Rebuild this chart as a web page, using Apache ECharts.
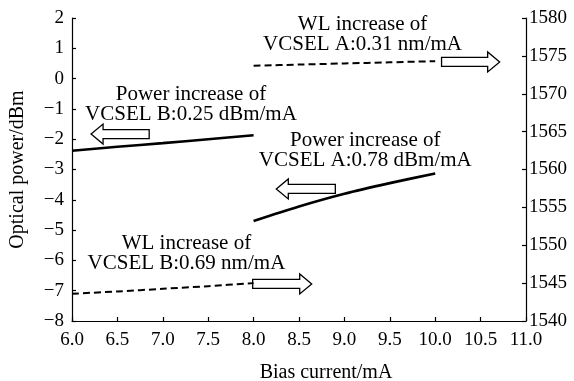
<!DOCTYPE html>
<html>
<head>
<meta charset="utf-8">
<script src="https://cdn.jsdelivr.net/npm/echarts@6/dist/echarts.min.js"></script>
<style>
  html, body { margin: 0; padding: 0; background: #fff; }
  #chart { width: 574px; height: 381px; }
</style>
</head>
<body>
<div id="chart"></div>
<script>
const FONT = "'Liberation Serif', 'Times New Roman', serif"

// bias current (mA)
const biasB = [6.0, 6.5, 7.0, 7.5, 8.0]
const biasA = [8.0, 8.5, 9.0, 9.5, 10.0]

// optical power (dBm), left axis
const powerB = [-2.38, -2.25, -2.13, -2.0, -1.87]
const powerA = [-4.70, -4.22, -3.80, -3.45, -3.13]

// wavelength (nm), right axis
const wlB = [1543.6, 1543.9, 1544.25, 1544.6, 1545.0]
const wlA = [1573.7, 1573.85, 1574.0, 1574.15, 1574.3]

// annotation texts and block arrows (data coords: x, y, axis index)
const notes = [
  { text: 'WL increase of\nVCSEL A:0.31 nm/mA', x: 9.2, y: 1.47, axis: 0 },
  { text: 'Power increase of\nVCSEL B:0.25 dBm/mA', x: 7.31, y: -0.86, axis: 0 },
  { text: 'Power increase of\nVCSEL A:0.78 dBm/mA', x: 9.23, y: -2.36, axis: 0 },
  { text: 'WL increase of\nVCSEL B:0.69 nm/mA', x: 7.26, y: 1548.9, axis: 1 }
]
const arrows = [
  { tail: 6.85, tip: 6.21, y: -1.83, axis: 0 },
  { tail: 10.07, tip: 10.71, y: 1574.2, axis: 1 },
  { tail: 8.9, tip: 8.25, y: -3.64, axis: 0 },
  { tail: 7.99, tip: 8.64, y: 1544.9, axis: 1 }
]

const chart = echarts.init(document.getElementById('chart'))

const axisText = { fontFamily: FONT, fontSize: 19, color: '#000' }
const axisLine = { show: true, onZero: false, lineStyle: { color: '#000', width: 1.2 } }
const axisTick = { show: true, inside: true, length: 4, lineStyle: { color: '#000', width: 1.2 } }

const option = {
  animation: false,
  backgroundColor: '#fff',
  grid: { left: 72, right: 48, top: 18, bottom: 60, containLabel: false, outerBoundsMode: 'none' },
  xAxis: {
    type: 'value',
    min: 6, max: 11, interval: 0.5,
    name: 'Bias current/mA',
    nameLocation: 'middle',
    nameGap: 42,
    nameTextStyle: { ...axisText, fontSize: 20, padding: [0, 0, 0, 54] },
    axisLine, axisTick,
    axisLabel: { ...axisText, margin: 10, formatter: v => v.toFixed(1) },
    splitLine: { show: false }
  },
  yAxis: [
    {
      type: 'value',
      min: -8, max: 2, interval: 1,
      name: 'Optical power/dBm',
      nameLocation: 'middle',
      nameGap: 44,
      nameTextStyle: { ...axisText, fontSize: 20 },
      axisLine, axisTick,
      axisLabel: { ...axisText, margin: 8, formatter: v => String(v).replace('-', '\u2212') },
      splitLine: { show: false }
    },
    {
      type: 'value',
      min: 1540, max: 1580, interval: 5,
      position: 'right',
      axisLine, axisTick,
      axisLabel: { ...axisText, margin: 3, formatter: v => String(v) },
      splitLine: { show: false }
    }
  ],
  series: [
    {
      type: 'line', yAxisIndex: 0, smooth: 0.3, showSymbol: false,
      lineStyle: { color: '#000', width: 2.6 },
      data: biasB.map((x, i) => [x, powerB[i]])
    },
    {
      type: 'line', yAxisIndex: 0, smooth: 0.3, showSymbol: false,
      lineStyle: { color: '#000', width: 2.6 },
      data: biasA.map((x, i) => [x, powerA[i]])
    },
    {
      type: 'line', yAxisIndex: 1, smooth: 0.3, showSymbol: false,
      lineStyle: { color: '#000', width: 2, type: [7, 4] },
      data: biasB.map((x, i) => [x, wlB[i]])
    },
    {
      type: 'line', yAxisIndex: 1, smooth: 0.3, showSymbol: false,
      lineStyle: { color: '#000', width: 2, type: [7, 4] },
      data: biasA.map((x, i) => [x, wlA[i]])
    }
  ]
}

chart.setOption(option)

// place annotations through the chart's own scales
const toPx = (x, y, axis) => chart.convertToPixel({ xAxisIndex: 0, yAxisIndex: axis }, [x, y])

const graphics = []
notes.forEach(n => {
  const p = toPx(n.x, n.y, n.axis)
  graphics.push({
    type: 'text', x: p[0], y: p[1],
    style: {
      text: n.text, fontFamily: FONT, fontSize: 21, lineHeight: 20,
      fill: '#000', align: 'center', verticalAlign: 'middle'
    }
  })
})
arrows.forEach(a => {
  const t = toPx(a.tail, a.y, a.axis)
  const h = toPx(a.tip, a.y, a.axis)
  const y = t[1]
  const dir = Math.sign(h[0] - t[0])
  const hs = 4.5, hh = 10, hl = 12
  const nx = h[0] - dir * hl
  graphics.push({
    type: 'polygon',
    shape: {
      points: [
        [t[0], y - hs], [nx, y - hs], [nx, y - hh], [h[0], y],
        [nx, y + hh], [nx, y + hs], [t[0], y + hs]
      ]
    },
    style: { fill: '#fff', stroke: '#000', lineWidth: 1.3 }
  })
})
chart.setOption({ graphic: graphics })
</script>
</body>
</html>
